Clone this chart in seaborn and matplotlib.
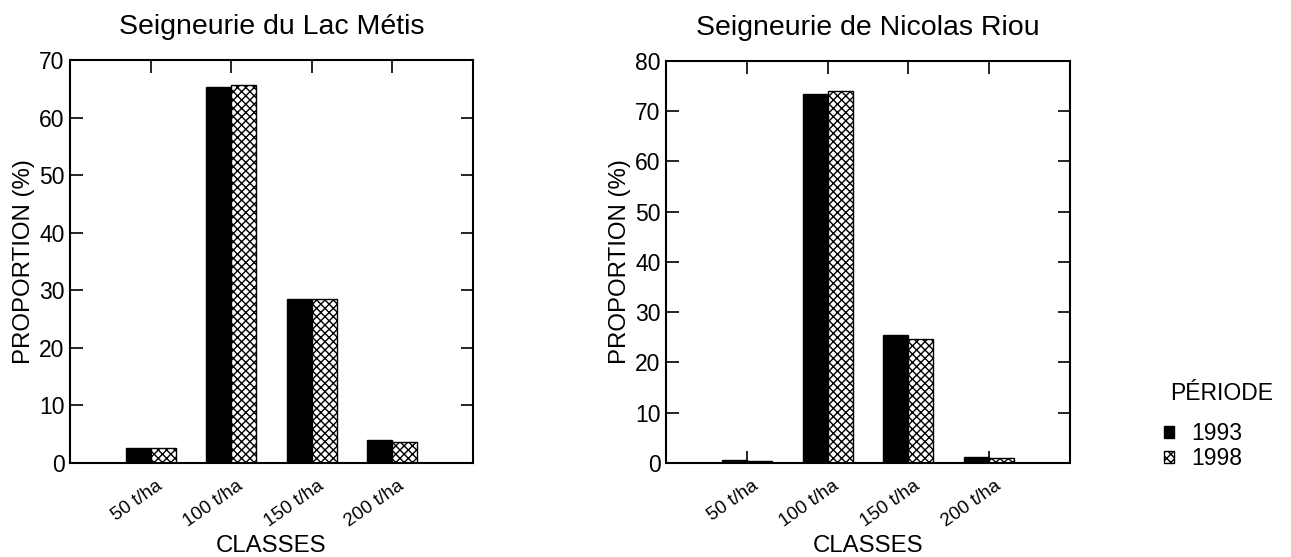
import matplotlib
matplotlib.use("Agg")
import matplotlib.pyplot as plt
from matplotlib.patches import Patch
from matplotlib.transforms import ScaledTranslation
import seaborn as sns
import pandas as pd

classes = ["50 t/ha", "100 t/ha", "150 t/ha", "200 t/ha"]
periods = ["1993", "1998"]

lac_metis_1993 = [2.6, 65.3, 28.5, 4.0]
lac_metis_1998 = [2.6, 65.6, 28.5, 3.6]
riou_1993 = [0.5, 73.4, 25.5, 1.2]
riou_1998 = [0.4, 74.1, 24.7, 0.9]

titles = ["Seigneurie du Lac Métis", "Seigneurie de Nicolas Riou"]
y_max = [70, 80]


def long_frame(v1993, v1998):
    rows = []
    for c, a, b in zip(classes, v1993, v1998):
        rows.append({"classe": c, "periode": periods[0], "proportion": a})
        rows.append({"classe": c, "periode": periods[1], "proportion": b})
    return pd.DataFrame(rows)


sns.set_theme(style="white")
plt.rcParams["font.family"] = ["Liberation Sans", "DejaVu Sans"]
plt.rcParams["hatch.linewidth"] = 1.0
for key in ("text.color", "axes.labelcolor", "xtick.color", "ytick.color",
            "axes.edgecolor"):
    plt.rcParams[key] = "black"

fig = plt.figure(figsize=(12.91, 5.57), dpi=100)
axes = [
    fig.add_axes([0.0542, 0.1688, 0.3122, 0.7235]),
    fig.add_axes([0.5159, 0.1688, 0.3129, 0.7217]),
]

frames = [long_frame(lac_metis_1993, lac_metis_1998), long_frame(riou_1993, riou_1998)]

# shift rotated class labels so their right end sits just past each tick
label_shift = ScaledTranslation(10 / 100, -21 / 100, fig.dpi_scale_trans)

for ax, df, title, ymax in zip(axes, frames, titles, y_max):
    sns.barplot(data=df, x="classe", y="proportion", hue="periode",
                order=classes, hue_order=periods,
                palette=["black", "white"], width=0.62, dodge=True,
                edgecolor="black", linewidth=1.0, errorbar=None,
                legend=False, ax=ax, zorder=2)
    for bar in ax.containers[1]:
        bar.set_hatch("xxxx")
    ax.set_xlim(-1, 4)
    ax.set_ylim(0, ymax)
    ax.set_yticks(range(0, ymax + 1, 10))
    ax.set_xticks(range(len(classes)))
    ax.tick_params(axis="both", direction="in", length=9, width=1.2,
                   top=True, right=True, bottom=True, left=True,
                   labeltop=False, labelright=False, color="black",
                   labelcolor="black")
    ax.tick_params(axis="y", labelsize=16.5, pad=4)
    ax.tick_params(axis="x", pad=0)
    ax.set_xticklabels(classes, rotation=35, ha="right", va="center",
                       rotation_mode="anchor", fontsize=13.5, color="black")
    for lbl in ax.get_xticklabels():
        lbl.set_transform(lbl.get_transform() + label_shift)
    for s in ax.spines.values():
        s.set_color("black")
        s.set_linewidth(1.5)
    ax.set_xlabel("CLASSES", fontsize=17.3, color="black")
    ax.xaxis.set_label_coords(0.5, -0.178)
    ax.set_ylabel("PROPORTION (%)", fontsize=17.3, color="black")
    ax.yaxis.set_label_coords(-0.087, 0.5)
    ax.set_title(title, fontsize=20.5, pad=19, color="black")

handles = [
    Patch(facecolor="black", edgecolor="black", label="1993"),
    Patch(facecolor="white", edgecolor="black", hatch="xxxx", label="1998"),
]
fig.text(1170 / 1291, 1 - 400 / 557, "PÉRIODE", fontsize=16.5,
         ha="left", va="baseline", color="black")
fig.legend(handles=handles, loc="upper left",
           bbox_to_anchor=(1164 / 1291, 1 - 422 / 557), frameon=False,
           fontsize=16.5, handlelength=0.44, handleheight=0.44,
           handletextpad=0.75, labelspacing=0.1, borderpad=0,
           borderaxespad=0, labelcolor="black")

fig.savefig("out.png", dpi=100)
